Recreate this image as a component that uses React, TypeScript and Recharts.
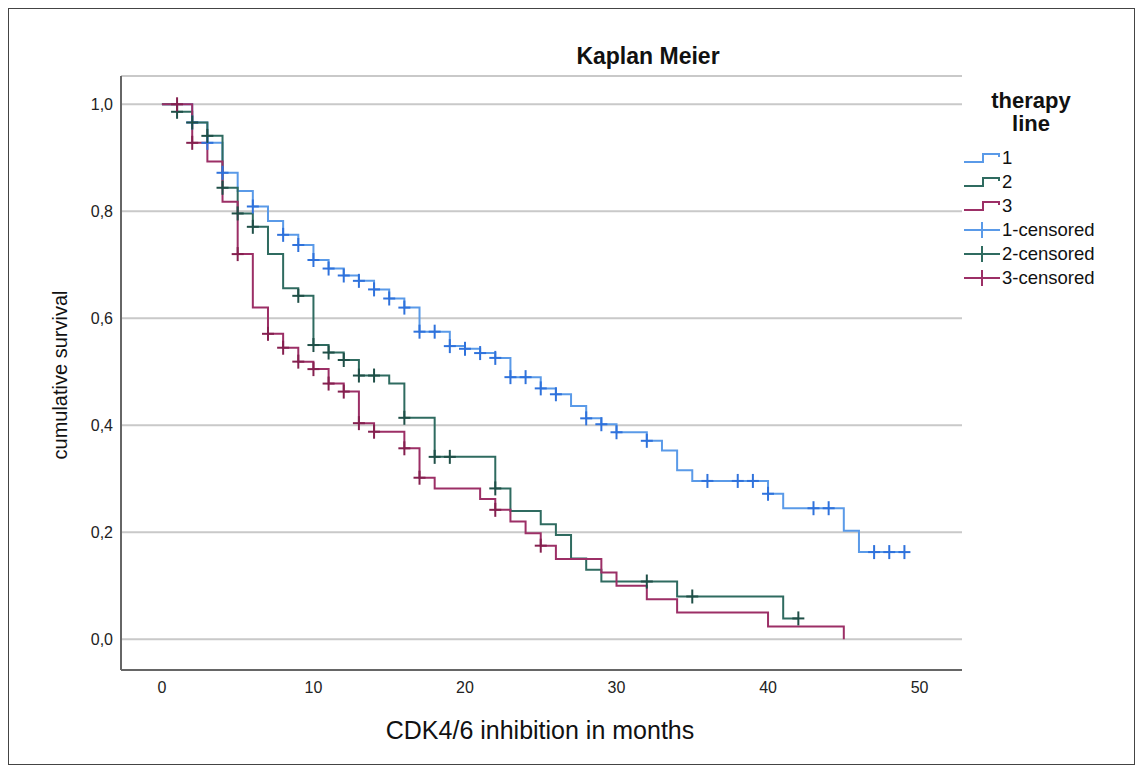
import React from 'react';
import { ComposedChart, Line, Scatter, XAxis, YAxis, CartesianGrid } from 'recharts';

// ---- data ----
const xTicks = [0, 10, 20, 30, 40, 50];
const yTicks = [0, 0.2, 0.4, 0.6, 0.8, 1.0];

const line1Times = [0, 2, 3, 4, 5, 6, 7, 8, 9, 10, 11, 12, 13, 14, 15, 16, 17, 19, 20, 21, 22, 23, 25, 26, 27, 28, 29, 30, 32, 33, 34, 35, 40, 41, 45, 46, 49];
const line1Survival = [1.0, 0.966, 0.928, 0.872, 0.838, 0.809, 0.782, 0.756, 0.737, 0.709, 0.693, 0.68, 0.67, 0.654, 0.637, 0.62, 0.575, 0.548, 0.543, 0.535, 0.526, 0.49, 0.469, 0.458, 0.436, 0.413, 0.402, 0.387, 0.371, 0.353, 0.316, 0.296, 0.272, 0.245, 0.203, 0.163, 0.163];
const line1Censored = [2, 3, 4, 6, 8, 9, 10, 11, 12, 13, 14, 15, 16, 17, 18, 19, 20, 21, 22, 23, 24, 25, 26, 28, 29, 30, 32, 36, 38, 39, 40, 43, 44, 47, 48, 49];

const line2Times = [0, 1, 2, 3, 4, 5, 6, 7, 8, 9, 10, 11, 12, 13, 15, 16, 18, 22, 23, 25, 26, 27, 28, 29, 34, 41, 42];
const line2Survival = [1.0, 0.986, 0.966, 0.941, 0.844, 0.796, 0.771, 0.72, 0.656, 0.642, 0.55, 0.536, 0.522, 0.493, 0.478, 0.414, 0.341, 0.282, 0.24, 0.215, 0.195, 0.151, 0.13, 0.108, 0.08, 0.039, 0.039];
const line2Censored = [1, 2, 3, 4, 5, 6, 9, 10, 11, 12, 13, 14, 16, 18, 19, 22, 32, 35, 42];

const line3Times = [0, 2, 3, 4, 5, 6, 7, 8, 9, 10, 11, 12, 13, 14, 16, 17, 18, 21, 22, 23, 24, 25, 26, 29, 30, 32, 34, 40, 45];
const line3Survival = [1.0, 0.928, 0.893, 0.818, 0.72, 0.62, 0.571, 0.545, 0.519, 0.505, 0.478, 0.463, 0.404, 0.388, 0.357, 0.302, 0.282, 0.262, 0.242, 0.22, 0.198, 0.175, 0.15, 0.125, 0.1, 0.075, 0.05, 0.024, 0.0];
const line3Censored = [1, 2, 5, 7, 8, 9, 10, 11, 12, 13, 14, 16, 17, 22, 25];

const legendLabels = ['1', '2', '3', '1-censored', '2-censored', '3-censored'];

// ---- helpers ----
const COLORS = ['#5a9ae8', '#2f6b60', '#9c2f66'];
const CENSOR_COLORS = ['#2f72dc', '#1f4f47', '#85204f'];

const buildSteps = (times: number[], surv: number[]) => times.map((t, i) => ({ t, s: surv[i] }));
const survAt = (times: number[], surv: number[], t: number) => {
  let v = surv[0];
  for (let i = 0; i < times.length; i++) if (times[i] <= t) v = surv[i];
  return v;
};
const buildCensor = (times: number[], surv: number[], cens: number[]) =>
  cens.map((t) => ({ t, s: survAt(times, surv, t) }));

const series = [
  { steps: buildSteps(line1Times, line1Survival), cens: buildCensor(line1Times, line1Survival, line1Censored) },
  { steps: buildSteps(line2Times, line2Survival), cens: buildCensor(line2Times, line2Survival, line2Censored) },
  { steps: buildSteps(line3Times, line3Survival), cens: buildCensor(line3Times, line3Survival, line3Censored) },
];

const makeCross = (color: string) => (props: any) => {
  const { cx, cy } = props;
  if (cx == null || cy == null) return <g />;
  return (
    <g>
      <line x1={cx - 6} x2={cx + 6} y1={cy} y2={cy} stroke={color} strokeWidth={2} />
      <line x1={cx} x2={cx} y1={cy - 7} y2={cy + 7} stroke={color} strokeWidth={2} />
    </g>
  );
};

const FONT = '"Liberation Sans", Arial, sans-serif';

const StepIcon = ({ color }: { color: string }) => (
  <svg width={40} height={24} style={{ display: 'block' }}>
    <polyline points="2,16 21,16 21,8 37,8 37,11" fill="none" stroke={color} strokeWidth={2} />
  </svg>
);
const CrossIcon = ({ color }: { color: string }) => (
  <svg width={40} height={24} style={{ display: 'block' }}>
    <line x1={2} x2={38} y1={12} y2={12} stroke={color} strokeWidth={2} />
    <line x1={20} x2={20} y1={4} y2={20} stroke={color} strokeWidth={2} />
  </svg>
);

export default function App() {
  return (
    <div
      style={{
        position: 'relative',
        width: 1127,
        height: 757,
        border: '1px solid #444',
        boxSizing: 'border-box',
        background: '#fff',
        fontFamily: FONT,
      }}
    >
      <ComposedChart width={1125} height={755} margin={{ top: 67, right: 172, left: 52, bottom: 64 }}>
        <CartesianGrid vertical={false} stroke="#c9c9c9" strokeWidth={2} />
        <XAxis
          type="number"
          dataKey="t"
          domain={[-2.7, 52.8]}
          ticks={xTicks}
          allowDataOverflow
          height={30}
          tickLine={false}
          tickSize={10}
          axisLine={{ stroke: '#666', strokeWidth: 2 }}
          tick={{ fill: '#222', fontSize: 16, fontFamily: FONT }}
        />
        <YAxis
          type="number"
          dataKey="s"
          domain={[-0.0574, 1.0529]}
          ticks={yTicks}
          allowDataOverflow
          width={60}
          tickLine={false}
          axisLine={{ stroke: '#666', strokeWidth: 2 }}
          tickFormatter={(v: number) => v.toFixed(1).replace('.', ',')}
          tick={{ fill: '#222', fontSize: 16, fontFamily: FONT }}
        />
        {series.map((s, i) => (
          <Line
            key={'l' + i}
            data={s.steps}
            dataKey="s"
            type="stepAfter"
            stroke={COLORS[i]}
            strokeWidth={2}
            dot={false}
            activeDot={false}
            isAnimationActive={false}
          />
        ))}
        {series.map((s, i) => (
          <Scatter
            key={'c' + i}
            data={s.cens}
            dataKey="s"
            shape={makeCross(CENSOR_COLORS[i])}
            isAnimationActive={false}
          />
        ))}
      </ComposedChart>

      <div
        style={{
          position: 'absolute',
          left: 439,
          width: 400,
          top: 36,
          textAlign: 'center',
          fontSize: 23,
          fontWeight: 'bold',
          lineHeight: '23px',
          color: '#111',
        }}
      >
        Kaplan Meier
      </div>

      <div
        style={{
          position: 'absolute',
          left: 51 - 150,
          top: 366 - 12,
          width: 300,
          height: 24,
          lineHeight: '24px',
          textAlign: 'center',
          fontSize: 20,
          color: '#111',
          transform: 'rotate(-90deg)',
        }}
      >
        cumulative survival
      </div>

      <div
        style={{
          position: 'absolute',
          left: 281,
          top: 708,
          width: 500,
          lineHeight: '26px',
          textAlign: 'center',
          fontSize: 25,
          color: '#111',
        }}
      >
        CDK4/6 inhibition in months
      </div>

      <div
        style={{
          position: 'absolute',
          left: 962,
          top: 80,
          width: 120,
          textAlign: 'center',
          fontSize: 22,
          fontWeight: 'bold',
          lineHeight: '23px',
          color: '#111',
        }}
      >
        <div>therapy</div>
        <div>line</div>
      </div>

      {legendLabels.map((lab, i) => (
        <div
          key={lab}
          style={{
            position: 'absolute',
            left: 953,
            top: 137 + i * 24,
            height: 24,
            display: 'flex',
            alignItems: 'center',
            fontSize: 18.5,
            color: '#111',
            whiteSpace: 'nowrap',
          }}
        >
          {i < 3 ? <StepIcon color={COLORS[i % 3]} /> : <CrossIcon color={COLORS[i % 3]} />}
          <span style={{ marginLeft: 0 }}>{lab}</span>
        </div>
      ))}
    </div>
  );
}
